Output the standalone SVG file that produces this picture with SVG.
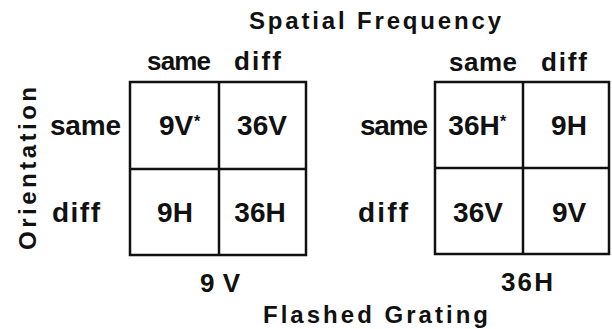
<svg xmlns="http://www.w3.org/2000/svg" width="612" height="329" viewBox="0 0 612 329">
<style>
text{font-family:"Liberation Sans",Arial,sans-serif;font-weight:bold;fill:#111;}
.t{font-size:24px;}
.h{font-size:26px;}
.l{font-size:28px;}
.c{font-size:28px;text-anchor:middle;}
.s{font-size:16px;}
.g{fill:none;stroke:#111;stroke-width:2.5;}
</style>
<rect width="612" height="329" fill="#fff"/>
<g id="titles">
<text class="t" x="249" y="29" textLength="252" lengthAdjust="spacing">Spatial Frequency</text>
<text class="t" x="263" y="323" textLength="225" lengthAdjust="spacing">Flashed Grating</text>
<text class="t" transform="translate(36,250) rotate(-90)" x="0" y="0" textLength="163" lengthAdjust="spacing">Orientation</text>
</g>
<g id="grid-9V">
<rect class="g" x="130" y="82" width="176" height="173"/>
<line class="g" x1="219" y1="82" x2="219" y2="255"/>
<line class="g" x1="130" y1="169" x2="306" y2="169"/>
<text class="h" x="147" y="70" textLength="64" lengthAdjust="spacing">same</text>
<text class="h" x="234" y="70" textLength="47" lengthAdjust="spacing">diff</text>
<text class="l" x="50" y="135" textLength="71" lengthAdjust="spacing">same</text>
<text class="l" x="52" y="222" textLength="48" lengthAdjust="spacing">diff</text>
<text class="c" x="176" y="135">9V</text>
<text class="s" x="194" y="127">*</text>
<text class="c" x="262" y="135">36V</text>
<text class="c" x="175" y="222">9H</text>
<text class="c" x="260" y="222">36H</text>
<text class="h" x="200" y="292" textLength="40" lengthAdjust="spacing">9 V</text>
</g>
<g id="grid-36H">
<rect class="g" x="435" y="82" width="174" height="172"/>
<line class="g" x1="523" y1="82" x2="523" y2="254"/>
<line class="g" x1="435" y1="168" x2="609" y2="168"/>
<text class="h" x="449" y="71" textLength="68" lengthAdjust="spacing">same</text>
<text class="h" x="541" y="71" textLength="46" lengthAdjust="spacing">diff</text>
<text class="l" x="360" y="135" textLength="68" lengthAdjust="spacing">same</text>
<text class="l" x="358" y="222" textLength="50" lengthAdjust="spacing">diff</text>
<text class="c" x="474" y="135">36H</text>
<text class="s" x="500" y="127">*</text>
<text class="c" x="569" y="135">9H</text>
<text class="c" x="478" y="222">36V</text>
<text class="c" x="569" y="222">9V</text>
<text class="h" x="501" y="291" textLength="52" lengthAdjust="spacing">36H</text>
</g>
</svg>
